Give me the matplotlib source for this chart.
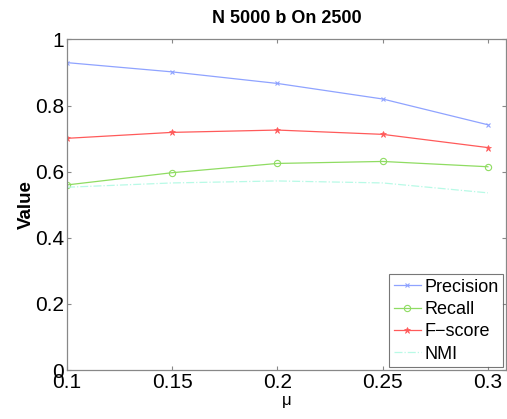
import matplotlib
matplotlib.use("Agg")
import matplotlib.pyplot as plt

mu = [0.1, 0.15, 0.2, 0.25, 0.3]
precision = [0.930, 0.902, 0.867, 0.820, 0.742]
recall = [0.560, 0.597, 0.625, 0.631, 0.615]
fscore = [0.701, 0.719, 0.726, 0.713, 0.673]
nmi = [0.553, 0.566, 0.572, 0.566, 0.536]

xticks = [0.1, 0.15, 0.2, 0.25, 0.3]
xtick_labels = ["0.1", "0.15", "0.2", "0.25", "0.3"]
yticks = [0, 0.2, 0.4, 0.6, 0.8, 1]
ytick_labels = ["0", "0.2", "0.4", "0.6", "0.8", "1"]

plt.rcParams["font.family"] = ["Liberation Sans", "DejaVu Sans"]

fig = plt.figure(figsize=(5.07, 4.19), dpi=100)
ax = fig.add_axes([67 / 507, 49 / 419, 439 / 507, 330.5 / 419])

ax.plot(mu, precision, color="#8fa3ff", lw=0.9, marker="x", ms=3.5, mew=0.8, label="Precision")
ax.plot(mu, recall, color="#8fdc62", lw=0.9, marker="o", ms=4.5, mfc="none", mew=0.8, label="Recall")
ax.plot(mu, fscore, color="#ff5a5a", lw=0.9, marker="*", ms=4.5, mew=0.5, label="F\u2212score")
ax.plot(mu, nmi, color="#b8fae6", lw=0.9, ls="-.", label="NMI")

ax.set_xlim(0.1, 0.3086)
ax.set_ylim(0, 1)
ax.set_xticks(xticks)
ax.set_xticklabels(xtick_labels)
ax.set_yticks(yticks)
ax.set_yticklabels(ytick_labels)
ax.tick_params(direction="in", length=3, color="#888888", labelsize=15,
               top=True, right=True, pad=2)
for s in ax.spines.values():
    s.set_color("#888888")
    s.set_linewidth(0.9)

ax.set_title("N 5000 b On 2500", fontsize=13, fontweight="bold", pad=12)
ax.set_ylabel("Value", fontsize=13.5, fontweight="bold", labelpad=0)
ax.set_xlabel("\u03bc", fontsize=12, labelpad=1)

leg = ax.legend(loc="lower right", fontsize=13, frameon=True, fancybox=False,
                edgecolor="#555555", borderaxespad=0.15, handlelength=1.5,
                handletextpad=0.2, labelspacing=0.3, borderpad=0.25)
leg.get_frame().set_linewidth(0.8)

fig.savefig("out.png", dpi=100)
